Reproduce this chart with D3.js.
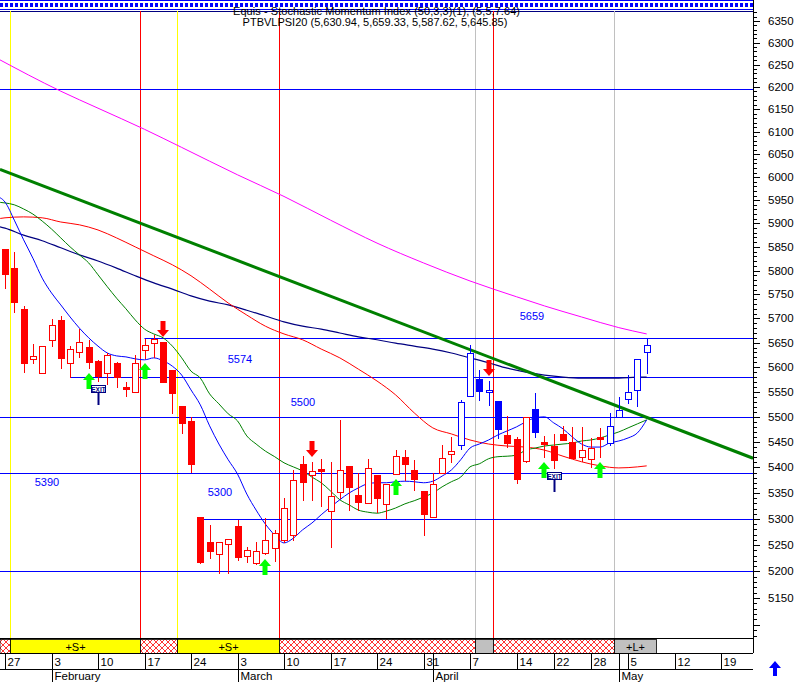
<!DOCTYPE html>
<html><head><meta charset="utf-8">
<script src="https://cdn.jsdelivr.net/npm/d3@7"></script>
<style>body{margin:0;background:#fff}svg{display:block;font-family:Arial,"Liberation Sans",sans-serif}</style>
</head><body><svg id="c" width="800" height="682"></svg>
<script>
// ---------- DATA ----------
const symbol = "PTBVLPSI20";
const headerA = "Equis - Stochastic Momentum Index (50,3,3)(1), (5,5,7.64)";
const firstDate = "2003-01-27", lastDate = "2003-05-24";
const holidays = ["2003-04-18","2003-04-21","2003-05-01"];
const opens = [5845,5805,5720,5617,5588,5656,5697,5609,5631,5641,5613,5588,5609,5560,5550,5635,5649,5652,5594,5522,
5492,5304,5256,5233,5252,5286,5229,5216,5235,5244,5260,5269,5407,5385,5397,5315,5352,5403,5346,5331,
5385,5329,5387,5420,5395,5354,5304,5389,5426,5444,5542,5576,5550,5532,5464,5456,5413,5516,5450,5442,
5466,5450,5420,5417,5460,5448,5500,5536,5554,5630.94];
const highs = [5846,5839,5726,5647,5643,5699,5705,5643,5678,5656,5615,5629,5611,5570,5625,5658,5666,5652,5594,5522,
5500,5304,5288,5256,5262,5298,5246,5256,5302,5279,5340,5395,5422,5411,5417,5411,5494,5403,5389,5417,
5385,5368,5434,5434,5415,5354,5389,5444,5460,5534,5645,5594,5572,5532,5502,5460,5500,5548,5462,5466,
5482,5480,5480,5458,5478,5508,5540,5584,5617,5659.33];
const lows = [5763,5713,5590,5609,5588,5643,5598,5580,5621,5598,5572,5566,5560,5542,5550,5619,5621,5570,5508,5468,
5391,5216,5225,5197,5197,5222,5218,5214,5232,5220,5256,5260,5337,5337,5325,5246,5340,5317,5317,5331,
5313,5302,5387,5375,5356,5269,5304,5389,5411,5436,5542,5534,5524,5458,5440,5370,5411,5460,5420,5399,
5454,5419,5413,5401,5420,5444,5500,5528,5522,5587.62];
const closes = [5793,5734,5609,5623,5643,5687,5619,5637,5652,5611,5582,5625,5580,5556,5609,5645,5658,5570,5548,5488,
5407,5218,5239,5256,5262,5227,5241,5239,5260,5273,5321,5375,5372,5393,5393,5344,5395,5362,5333,5399,
5340,5368,5422,5407,5377,5309,5368,5419,5432,5530,5629,5552,5554,5476,5448,5377,5500,5470,5446,5415,
5454,5419,5434,5438,5456,5482,5514,5550,5617,5645.85];
const longBars = [49,50,51,52,53,57,65,66,67,68,69];
const buySignals = [9,15,28,42,58,64];
const sellSignals = [17,33,52];
const exitSignals = [10,59];
// moving averages: [bar index, value]
const maFast = [[-1,5959],[0,5946],[1,5907],[2,5865],[3,5826],[4,5784],[5,5753],[6,5728],[7,5703],[8,5680],[9,5660],[10,5643],[11,5629],[12,5623],[13,5621],[14,5617],[15,5615],[16,5619],[17,5613],[18,5602],[19,5584],[20,5554],[21,5524],[22,5482],[23,5446],[24,5415],[25,5387],[26,5348],[27,5317],[28,5290],[29,5269],[30,5254],[31,5263],[32,5279],[33,5292],[34,5308],[35,5323],[36,5337],[37,5350],[38,5360],[39,5368],[40,5370],[41,5370],[42,5372],[43,5373],[44,5372],[45,5370],[46,5373],[47,5383],[48,5395],[49,5415],[50,5438],[51,5446],[52,5454],[53,5464],[54,5472],[55,5480],[56,5490],[57,5498],[58,5500],[59,5488],[60,5476],[61,5460],[62,5446],[63,5440],[64,5440],[65,5448],[66,5452],[67,5458],[68,5468],[69,5494]];
const maMid = [[-1,5946],[0,5944],[1,5940],[2,5931],[3,5920],[4,5905],[5,5888],[6,5869],[7,5850],[8,5833],[9,5816],[10,5791],[11,5766],[12,5742],[13,5720],[14,5697],[15,5678],[16,5668],[17,5660],[18,5643],[19,5619],[20,5592],[21,5578],[22,5546],[23,5526],[24,5506],[25,5492],[26,5462],[27,5446],[28,5432],[29,5421],[30,5409],[31,5401],[32,5393],[33,5381],[34,5370],[35,5354],[36,5337],[37,5327],[38,5317],[39,5313],[40,5311],[41,5315],[42,5321],[43,5329],[44,5335],[45,5342],[46,5350],[47,5362],[48,5372],[49,5381],[50,5401],[51,5407],[52,5417],[53,5421],[54,5422],[55,5424],[56,5434],[57,5438],[58,5442],[59,5444],[60,5446],[61,5448],[62,5452],[63,5454],[64,5458],[65,5464],[66,5470],[67,5478],[68,5486],[69,5494]];
const maSlow = [[-1,5909],[0,5912],[2,5914],[4,5912],[6,5903],[8,5897],[10,5886],[12,5869],[14,5850],[16,5831],[18,5812],[20,5789],[22,5761],[24,5732],[26,5707],[28,5684],[30,5668],[32,5656],[34,5637],[36,5619],[38,5596],[40,5572],[42,5544],[44,5508],[46,5478],[48,5466],[50,5454],[52,5446],[54,5442],[56,5440],[58,5434],[60,5422],[62,5411],[64,5403],[66,5399],[68,5401],[69,5403]];
const maLong = [[-1,5895],[0,5890],[2,5875],[4,5863],[6,5848],[8,5833],[10,5820],[12,5805],[14,5789],[16,5774],[18,5761],[20,5747],[22,5736],[24,5728],[26,5717],[28,5705],[30,5693],[32,5684],[34,5678],[36,5670],[38,5662],[40,5656],[42,5649],[44,5643],[46,5637],[48,5629],[50,5619],[52,5609],[54,5598],[56,5590],[58,5584],[60,5580],[62,5578],[64,5578],[66,5578],[68,5580],[69,5580]];
const ma200 = [[-1,6266],[6,6190],[10,6152],[15,6105],[19,6065],[25,6005],[30,5958],[35,5907],[40,5858],[45,5816],[50,5778],[55,5745],[58,5726],[62,5703],[66,5681],[69,5668]];
const trendLine = [[-0.54,6017],[80.43,5418]];
const levels = [6195,5659,5580,5500,5390,5300,5200];
const levelFrom = [-1,15,7,-1,-1,21,-1];
const levelTexts = ["5659","5574","5500","5390","5300"];
const yTickLabels = d3.range(5150,6351,50);
const stripBounds = [-1,0.5,14.5,18.5,29.5,50.5,52.5,65.5,70];
const stripTypes = ["x","S","x","S","x","g","x","L"];
const stripLabels = {S:"+S+",L:"+L+"};

// ---------- DRAW ----------
const svg = d3.select("#c");
const R = 753, TOP = 11, BOT = 638;
const x = d3.scaleLinear().domain([0,80]).range([5,749]);
const y = d3.scaleLog().domain([5150,6350]).range([598,20.9]);
const px = v => Math.round(v)+0.5;

const defs = svg.append("defs");
defs.append("clipPath").attr("id","clip").append("rect").attr("x",0).attr("y",TOP).attr("width",R).attr("height",BOT-TOP);
const pat = defs.append("pattern").attr("id","hatch").attr("patternUnits","userSpaceOnUse").attr("width",6).attr("height",6);
pat.append("rect").attr("width",6).attr("height",6).attr("fill","#fff");
pat.append("path").attr("d","M0,0L6,6M6,0L0,6").attr("stroke","#ff0000").attr("stroke-width",0.8);

// top band
svg.append("line").attr("x1",0).attr("x2",R).attr("y1",0.5).attr("y2",0.5).attr("stroke","#0000ff");
svg.append("line").attr("x1",0).attr("x2",R).attr("y1",5).attr("y2",5).attr("stroke","#0000ff").attr("stroke-width",4).attr("stroke-dasharray","3,2");
svg.append("line").attr("x1",0).attr("x2",R).attr("y1",9.5).attr("y2",9.5).attr("stroke","#0000ff");
svg.append("line").attr("x1",0).attr("x2",R).attr("y1",TOP+0.5).attr("y2",TOP+0.5).attr("stroke","#000080");

const plot = svg.append("g").attr("clip-path","url(#clip)");

// vertical signal lines
const lineColor = {S:"#ffff00",x:"#ff0000",g:"#c0c0c0",L:"#c0c0c0"};
stripTypes.forEach((t,k)=>{ if(k===0) return;
  plot.append("line").attr("x1",px(x(stripBounds[k]))).attr("x2",px(x(stripBounds[k]))).attr("y1",TOP).attr("y2",BOT).attr("stroke",lineColor[t]);
});

// horizontal levels
levels.forEach((v,k)=>{
  plot.append("line").attr("x1",Math.max(0,x(levelFrom[k]))).attr("x2",R).attr("y1",px(y(v))).attr("y2",px(y(v))).attr("stroke","#0000ff");
});
const lvlPos = [[532,320],[240,363],[303,406],[47,486],[220,496]];
levelTexts.forEach((t,k)=>{
  svg.append("text").attr("x",lvlPos[k][0]).attr("y",lvlPos[k][1]).attr("text-anchor","middle").attr("font-size",11).attr("fill","#0000ff").text(t);
});

// moving averages
const line = d3.line().x(d=>x(d[0])).y(d=>y(d[1])).curve(d3.curveMonotoneX);
plot.append("path").attr("d",line(ma200)).attr("fill","none").attr("stroke","#ff00ff").attr("stroke-width",1);
plot.append("path").attr("d",line(maLong)).attr("fill","none").attr("stroke","#000080").attr("stroke-width",1.2);
plot.append("path").attr("d",line(maSlow)).attr("fill","none").attr("stroke","#ff0000").attr("stroke-width",1);
plot.append("path").attr("d",line(maMid)).attr("fill","none").attr("stroke","#008000").attr("stroke-width",1);
plot.append("path").attr("d",line(maFast)).attr("fill","none").attr("stroke","#0000ff").attr("stroke-width",1);
plot.append("path").attr("d",d3.line().x(d=>x(d[0])).y(d=>y(d[1]))(trendLine)).attr("fill","none").attr("stroke","#008000").attr("stroke-width",3);

// candles
const bars = opens.map((o,i)=>({i,o,h:highs[i],l:lows[i],c:closes[i],col:longBars.includes(i)?"#0000ff":"#ff0000"}));
const cg = plot.append("g");
bars.forEach(d=>{
  const cx = px(x(d.i));
  cg.append("line").attr("x1",cx).attr("x2",cx).attr("y1",Math.round(y(d.h))).attr("y2",Math.round(y(d.l))+1).attr("stroke",d.col);
  const top = Math.round(y(Math.max(d.o,d.c))), bot = Math.round(y(Math.min(d.o,d.c)));
  if(d.c >= d.o){
    cg.append("rect").attr("x",cx-3).attr("width",6).attr("y",top+0.5).attr("height",Math.max(1,bot-top)).attr("fill","#fff").attr("stroke",d.col);
  } else {
    cg.append("rect").attr("x",cx-3.5).attr("width",7).attr("y",top).attr("height",Math.max(2,bot-top+1)).attr("fill",d.col);
  }
});

// signals
const upArrow = (cx,ty)=>`M${cx},${ty}L${cx+6},${ty+7}L${cx+2.5},${ty+7}L${cx+2.5},${ty+16}L${cx-2.5},${ty+16}L${cx-2.5},${ty+7}L${cx-6},${ty+7}Z`;
const dnArrow = (cx,by)=>`M${cx},${by}L${cx+6},${by-7}L${cx+2.5},${by-7}L${cx+2.5},${by-16}L${cx-2.5},${by-16}L${cx-2.5},${by-7}L${cx-6},${by-7}Z`;
buySignals.forEach(i=>{ plot.append("path").attr("d",upArrow(Math.round(x(i)),Math.round(y(lows[i]))+5)).attr("fill","#00ff00"); });
sellSignals.forEach(i=>{ plot.append("path").attr("d",dnArrow(Math.round(x(i)),Math.round(y(highs[i]))-5)).attr("fill","#ff0000"); });
exitSignals.forEach(i=>{
  const cx = px(x(i)), ty = Math.round(y(lows[i]))+4;
  plot.append("line").attr("x1",cx).attr("x2",cx).attr("y1",ty+7).attr("y2",ty+20).attr("stroke","#000080").attr("stroke-width",2);
  plot.append("rect").attr("x",cx-7).attr("y",ty+0.5).attr("width",14).attr("height",7).attr("fill","#fff").attr("stroke","#000080");
  plot.append("text").attr("x",cx).attr("y",ty+6.5).attr("text-anchor","middle").attr("font-size",6.5).attr("font-weight","bold").attr("fill","#000080").text("EXIT");
});

// header
svg.append("text").attr("x",233).attr("y",15).attr("font-size",11).attr("textLength",287).text(headerA);
svg.append("text").attr("x",375).attr("y",26).attr("text-anchor","middle").attr("font-size",11)
  .text(`${symbol} (${[opens[69],highs[69],lows[69],closes[69]].map(d3.format(",.2f")).join(", ")})`);

// right axis
svg.append("line").attr("x1",R+0.5).attr("x2",R+0.5).attr("y1",0).attr("y2",653).attr("stroke","#000");
d3.range(5080,6380,10).forEach(v=>{
  const major = v%50===0;
  svg.append("line").attr("x1",R).attr("x2",R+(major?7:4)).attr("y1",px(y(v))).attr("y2",px(y(v))).attr("stroke","#000");
});
yTickLabels.forEach(v=>{
  svg.append("text").attr("x",768).attr("y",y(v)+4).attr("font-size",11.5).text(v);
});

// bottom strip
svg.append("line").attr("x1",0).attr("x2",R).attr("y1",BOT+0.5).attr("y2",BOT+0.5).attr("stroke","#000");
const stripFill = {x:"url(#hatch)",S:"#ffff00",g:"#c0c0c0",L:"#c0c0c0"};
stripTypes.forEach((t,k)=>{
  const x0 = Math.max(0,px(x(stripBounds[k]))), x1 = px(x(stripBounds[k+1]));
  svg.append("rect").attr("x",x0).attr("y",639.5).attr("width",x1-x0).attr("height",14).attr("fill",stripFill[t]).attr("stroke","#000").attr("stroke-width",0.8);
  if(stripLabels[t]) svg.append("text").attr("x",(x0+x1)/2).attr("y",650.5).attr("text-anchor","middle").attr("font-size",11).text(stripLabels[t]);
});
svg.append("line").attr("x1",0).attr("x2",R).attr("y1",653.5).attr("y2",653.5).attr("stroke","#000");
svg.append("line").attr("x1",0).attr("x2",R).attr("y1",669.5).attr("y2",669.5).attr("stroke","#000");

// date axis
const parse = d3.timeParse("%Y-%m-%d"), fmt = d3.timeFormat("%Y-%m-%d"), hol = new Set(holidays);
const days = d3.timeDay.range(parse(firstDate),parse(lastDate)).filter(d=>d.getDay()%6!==0 && !hol.has(fmt(d)));
const monthName = d3.timeFormat("%B");
days.forEach((d,i)=>{
  const xx = px(x(i));
  if(xx > R) return;
  const newWeek = i===0 || +d3.timeMonday.floor(d) !== +d3.timeMonday.floor(days[i-1]);
  const newMonth = i>0 && d.getMonth() !== days[i-1].getMonth();
  if(newWeek){
    svg.append("line").attr("x1",xx).attr("x2",xx).attr("y1",654).attr("y2",669).attr("stroke","#000");
    svg.append("text").attr("x",xx+2).attr("y",666).attr("font-size",11.5).text(d.getDate());
  }
  if(newMonth){
    svg.append("line").attr("x1",xx).attr("x2",xx).attr("y1",654).attr("y2",682).attr("stroke","#000");
    svg.append("text").attr("x",xx+2).attr("y",680).attr("font-size",11.5).text(monthName(d));
  }
});

// scroll arrow
svg.append("path").attr("d","M775,661L781,668L777,668L777,676L773,676L773,668L769,668Z").attr("fill","#0000ff");
</script></body></html>
